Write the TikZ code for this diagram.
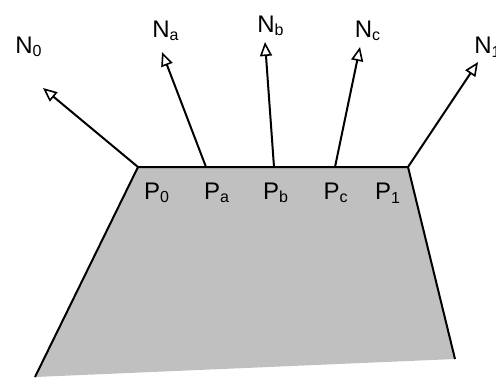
\documentclass[tikz,border=0pt]{standalone}
\usepackage{fontspec}
\setmainfont{Liberation Sans}
\usepackage{xcolor}
\usetikzlibrary{arrows.meta}
\definecolor{facegrey}{HTML}{C0C0C0}

\begin{document}
\begin{tikzpicture}[
    x=0.5pt, y=-0.5pt,
    face/.style={fill=facegrey},
    edge/.style={line width=1pt, line join=miter},
    normal/.style={-{Triangle[open, length=7pt, width=6pt, line width=0.8pt]}, line width=1pt},
    lbl/.style={font=\fontsize{12}{14}\selectfont, inner sep=0pt},
]
\useasboundingbox (0,0) rectangle (496,377);

% ============== points on the top edge ==============
\coordinate (p0) at (138,167);
\coordinate (pa) at (206,167);
\coordinate (pb) at (274,167);
\coordinate (pc) at (335,167);
\coordinate (p1) at (408,167);
\coordinate (br) at (455,359);
\coordinate (bl) at (35,377);

% ============== face ==============
\fill[face] (p0) -- (p1) -- (br) -- (bl) -- cycle;
\draw[edge] (bl) -- (p0) -- (p1) -- (br);

\node[lbl] (lp0) at (157,193) {P\textsubscript{0}};
\node[lbl] (lpa) at (217,193) {P\textsubscript{a}};
\node[lbl] (lpb) at (276,193) {P\textsubscript{b}};
\node[lbl] (lpc) at (336,193) {P\textsubscript{c}};
\node[lbl] (lp1) at (388,193) {P\textsubscript{1}};

% ============== normals ==============
\coordinate (t0) at (43,88);
\coordinate (ta) at (162,52);
\coordinate (tb) at (265,42);
\coordinate (tc) at (360,47);
\coordinate (t1) at (478,62);

\draw[normal] (p0) -- (t0);
\draw[normal] (pa) -- (ta);
\draw[normal] (pb) -- (tb);
\draw[normal] (pc) -- (tc);
\draw[normal] (p1) -- (t1);

\node[lbl] (n0) at (29,47) {N\textsubscript{0}};
\node[lbl] (na) at (166,31) {N\textsubscript{a}};
\node[lbl] (nb) at (271,26) {N\textsubscript{b}};
\node[lbl] (nc) at (368,31) {N\textsubscript{c}};
\node[lbl] (n1) at (488,47) {N\textsubscript{1}};

\end{tikzpicture}
\end{document}
